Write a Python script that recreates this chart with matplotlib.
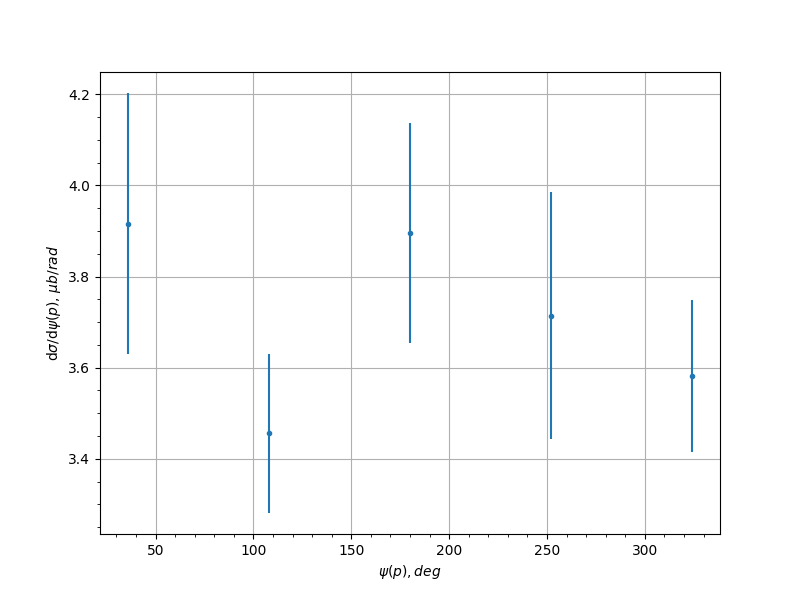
import matplotlib
matplotlib.use("Agg")
import matplotlib.pyplot as plt
from matplotlib.ticker import AutoMinorLocator

# psi(p) bin centres, cross section and its errors
psi_deg = [36, 108, 180, 252, 324]
dsigma = [3.916, 3.456, 3.896, 3.714, 3.582]
dsigma_err = [0.287, 0.175, 0.242, 0.271, 0.167]


def main():
    fig, ax = plt.subplots(figsize=(8, 6), dpi=100)
    ax.errorbar(psi_deg, dsigma, yerr=dsigma_err, fmt=".")
    ax.set_xlabel(r"$\psi(p), deg$")
    ax.set_ylabel(r"d$\sigma$/d$\psi(p)$, $\mu b/rad$")
    ax.xaxis.set_minor_locator(AutoMinorLocator())
    ax.yaxis.set_minor_locator(AutoMinorLocator())
    ax.grid(True)
    fig.savefig("out.png", dpi=100)
    plt.close(fig)


if __name__ == "__main__":
    main()
